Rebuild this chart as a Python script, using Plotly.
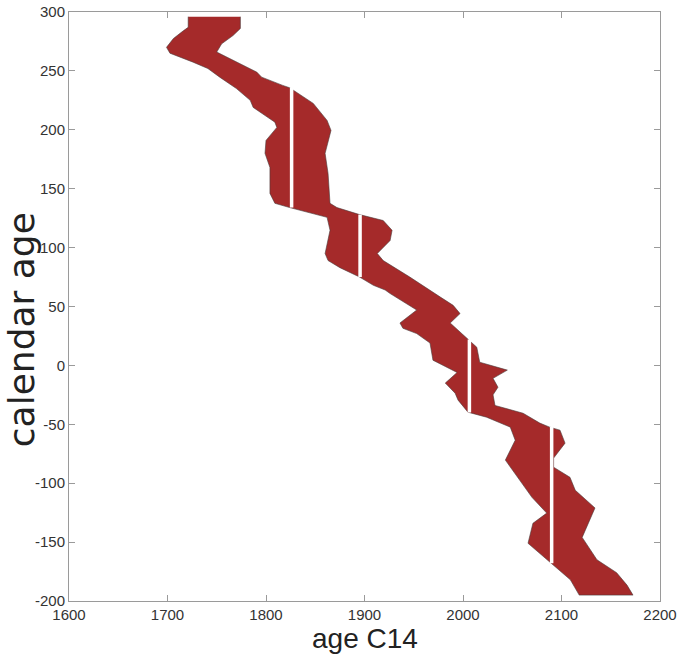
import plotly.graph_objects as go

# Left (young C14) edge of the calibration band: calendar age, C14 age
left_cal = [296, 287, 284, 277.5, 270, 265, 257.4, 252, 244.7, 235, 225, 219, 211, 206.5, 202, 195, 191,
            180, 168, 146, 137.6, 134, 130, 125.7, 114.7, 95, 89, 83, 75, 68, 64, 61, 47, 36, 31.5, 27,
            19, 4.4, -6, -15, -23.6, -29.5, -39.7, -44, -52.4, -63.5, -80.4, -97.4, -112, -125.4, -134,
            -151, -168, -182, -195]
left_c14 = [1721, 1721, 1716, 1706, 1699, 1702.5, 1726, 1741, 1753, 1770, 1784, 1787, 1801, 1809, 1811,
            1804, 1800, 1799, 1804, 1804, 1809, 1824, 1843, 1862, 1865, 1860, 1863, 1875, 1895, 1909,
            1921, 1926, 1953, 1936, 1939, 1953, 1966.5, 1969.5, 1994, 1982, 1992, 1995, 2005, 2024, 2048,
            2053, 2043, 2058, 2070, 2085, 2071, 2066, 2090, 2109, 2118]

# Right (old C14) edge
right_cal = [296, 286, 280, 273, 266, 260.6, 249, 244.7, 237.7, 235.7, 222.4, 208, 199.5, 180, 163, 137.6,
             134, 128, 123, 114.7, 106, 95, 89, 75, 58, 51, 44, 36, 30, 23, 15.4, 2.7, -4, -11, -18.5,
             -25, -34, -40.6, -49, -52.4, -55, -66, -78.7, -86.4, -95, -106, -121, -146, -165, -176,
             -186.5, -195]
right_c14 = [1774, 1774, 1766.5, 1755, 1750, 1763.5, 1790.6, 1795.6, 1817, 1824, 1848, 1862, 1866, 1860,
             1863, 1865, 1872, 1895, 1919, 1928, 1926, 1913, 1919, 1946, 1977, 1990, 1997, 1987, 1995,
             2004, 2014, 2017, 2045, 2030.5, 2035.5, 2030.5, 2032.5, 2061, 2078, 2088, 2098.5, 2103.6,
             2092, 2092, 2108.6, 2114, 2134, 2121, 2136, 2156, 2166.5, 2172.6]

# White vertical intercept lines
line_c14 = [1826, 1895.5, 2006.5, 2090]
line_top = [236, 128, 22, -52]
line_bot = [134, 75, -40, -168]

x_ticks = [1600, 1700, 1800, 1900, 2000, 2100, 2200]
y_ticks = [-200, -150, -100, -50, 0, 50, 100, 150, 200, 250, 300]

poly_x = left_c14 + right_c14[::-1]
poly_y = left_cal + right_cal[::-1]

lx, ly = [], []
for c, t, b in zip(line_c14, line_top, line_bot):
    lx += [c, c, None]
    ly += [b, t, None]

fig = go.Figure()
fig.add_trace(go.Scatter(x=poly_x, y=poly_y, fill="toself", fillcolor="#A52A2A",
                         mode="lines", line=dict(color="#4a3a3a", width=0.6),
                         hoverinfo="skip", showlegend=False))
fig.add_trace(go.Scatter(x=lx, y=ly, mode="lines", line=dict(color="white", width=3.5),
                         showlegend=False, hoverinfo="skip"))

axis_common = dict(showgrid=False, zeroline=False, showline=True, mirror="ticks",
                   linecolor="#9a9a9a", linewidth=1, ticks="inside", ticklen=6,
                   tickcolor="#9a9a9a", tickwidth=1, automargin=False,
                   tickfont=dict(family="Liberation Sans, Arial, sans-serif", size=15, color="#333333"))

fig.update_xaxes(range=[1600, 2200], tickvals=x_ticks, ticktext=[str(v) for v in x_ticks],
                 **axis_common)
fig.update_yaxes(range=[-200, 300], tickvals=y_ticks, ticktext=[str(v) for v in y_ticks],
                 **axis_common)

fig.update_layout(
    width=677, height=661,
    margin=dict(l=69, r=17, t=12, b=60),
    plot_bgcolor="white", paper_bgcolor="white",
    annotations=[
        dict(text="age C14", xref="paper", yref="paper", x=0.5, y=-0.063,
             xanchor="center", yanchor="middle", showarrow=False,
             font=dict(family="Liberation Sans, Arial, sans-serif",
                       size=28, color="#222222")),
        dict(text="calendar age", xref="paper", yref="paper", x=-0.081, y=0.46,
             xanchor="center", yanchor="middle", showarrow=False, textangle=-90,
             font=dict(family="DejaVu Sans, sans-serif", size=36, color="#222222")),
    ],
)

fig.write_html("out.html", config={"displayModeBar": False},
               post_script="document.body.style.margin='0';document.body.style.overflow='hidden';")
